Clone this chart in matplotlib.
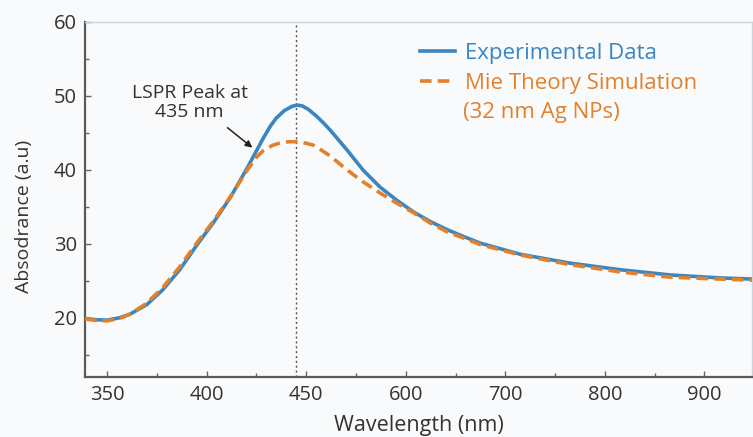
import matplotlib
matplotlib.use("Agg")
from matplotlib import pyplot as plt
from matplotlib.ticker import MultipleLocator

plt.rcParams['font.family'] = ['Open Sans', 'DejaVu Sans']

# tick labels on the (unevenly labelled) wavelength axis, one per unit position
tick_pos = [0, 1, 2, 3, 4, 5, 6]
tick_labels = ['350', '400', '450', '600', '700', '800', '900']

# curves, x in tick-position units
exp_x = [-0.22, -0.10, 0.0, 0.12, 0.23, 0.40, 0.56, 0.73, 0.90, 1.07, 1.24, 1.41,
         1.57, 1.64, 1.70, 1.78, 1.86, 1.91, 1.96, 2.02, 2.10, 2.17, 2.24, 2.41,
         2.57, 2.74, 2.91, 3.08, 3.25, 3.42, 3.58, 3.75, 4.15, 4.65, 5.16, 5.66,
         6.16, 6.48]
exp_y = [19.9, 19.75, 19.7, 20.0, 20.5, 21.8, 23.8, 26.5, 29.8, 32.9, 36.3, 40.3,
         44.3, 45.9, 47.0, 48.0, 48.6, 48.75, 48.65, 48.2, 47.3, 46.4, 45.4, 42.7,
         40.0, 37.7, 35.9, 34.3, 33.0, 31.9, 31.0, 30.1, 28.6, 27.4, 26.5, 25.8,
         25.4, 25.25]

mie_x = [-0.22, -0.10, 0.0, 0.12, 0.23, 0.40, 0.56, 0.73, 0.90, 1.07, 1.24, 1.41,
         1.50, 1.57, 1.66, 1.74, 1.82, 1.91, 2.00, 2.07, 2.15, 2.24, 2.41, 2.57,
         2.74, 2.91, 3.08, 3.25, 3.42, 3.58, 3.75, 4.15, 4.65, 5.16, 5.66, 6.16,
         6.48]
mie_y = [19.85, 19.65, 19.6, 19.9, 20.5, 22.0, 24.1, 26.9, 30.1, 33.1, 36.4, 40.0,
         41.7, 42.6, 43.3, 43.65, 43.8, 43.8, 43.6, 43.35, 42.7, 41.9, 40.0, 38.4,
         36.9, 35.5, 34.2, 32.8, 31.6, 30.8, 29.9, 28.5, 27.2, 26.2, 25.5, 25.25,
         25.1]

peak_pos = 1.9

bg = '#f9fafb'
blue = '#3b86c1'
orange = '#e3802b'
text_c = '#333333'

fig = plt.figure(figsize=(7.53, 4.37), dpi=100, facecolor=bg)
ax = fig.add_axes([0.113, 0.137, 0.886, 0.813], facecolor=bg)

ax.plot(exp_x, exp_y, color=blue, lw=2.6, label='Experimental Data', zorder=3)
ax.plot(mie_x, mie_y, color=orange, lw=2.6, dashes=(3.2, 1.7),
        label='Mie Theory Simulation', zorder=4)
ax.axvline(peak_pos, color='#555555', lw=1.0, ls=(0, (1.5, 2)), zorder=2)

ax.text(0.83, 49.1, 'LSPR Peak at\n435 nm', ha='center', va='center',
        fontsize=14, color=text_c, linespacing=1.1)
ax.annotate('', xy=(1.46, 43.0), xytext=(1.21, 45.7),
            arrowprops=dict(arrowstyle='-|>', color='#222222', lw=1.1,
                            mutation_scale=10, shrinkA=0, shrinkB=0))

ax.set_xlim(-0.22, 6.48)
ax.set_ylim(12, 60)
ax.set_xticks(tick_pos)
ax.set_xticklabels(tick_labels)
ax.xaxis.set_minor_locator(MultipleLocator(0.5))
ax.yaxis.set_major_locator(MultipleLocator(10))
ax.yaxis.set_minor_locator(MultipleLocator(5))
ax.tick_params(which='both', direction='in', colors='#666666', labelcolor=text_c,
               labelsize=14.5, width=1)
ax.tick_params(which='major', length=4, pad=6)
ax.tick_params(which='minor', length=3)

for s in ['left', 'bottom']:
    ax.spines[s].set_color('#5a5a5a')
    ax.spines[s].set_linewidth(1.6)
for s in ['top', 'right']:
    ax.spines[s].set_color('#cfd2d6')
    ax.spines[s].set_linewidth(1.0)

ax.set_xlabel('Wavelength (nm)', fontsize=15.5, color=text_c, labelpad=7)
ax.set_ylabel('Absodrance (a.u)', fontsize=14, color=text_c)
ax.yaxis.set_label_coords(-0.078, 0.453)

leg = ax.legend(loc='upper left', bbox_to_anchor=(0.4885, 0.965), frameon=False,
                fontsize=16, labelcolor='linecolor', handlelength=1.6,
                handletextpad=0.45, borderaxespad=0, labelspacing=0.4)
# second line of the simulation label, under the legend entry
ax.text(0.567, 0.746, '(32 nm Ag NPs)', transform=ax.transAxes, fontsize=16,
        color=orange, ha='left', va='center')

fig.savefig('out.png', dpi=100, facecolor=bg)
